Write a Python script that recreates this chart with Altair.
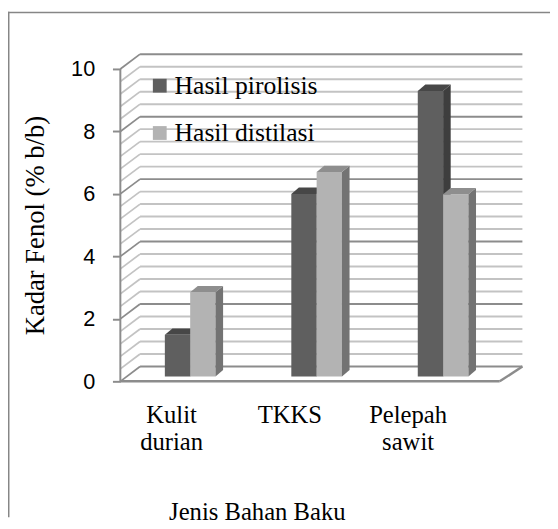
import altair as alt
import pandas as pd

# ---------------- data ----------------
categories = ["Kulit durian", "TKKS", "Pelepah sawit"]
category_labels = ["Kulit\ndurian", "TKKS", "Pelepah\nsawit"]
series = ["Hasil pirolisis", "Hasil distilasi"]
pirolisis = [1.33, 5.84, 9.14]
distilasi = [2.69, 6.54, 5.83]
y_ticks = [0, 2, 4, 6, 8, 10]
minor_step = 0.4
x_title = "Jenis Bahan Baku"
y_title = "Kadar Fenol (% b/b)"

# ---------------- layout / style ----------------
W, H = 410, 339
PXU = 31.7                      # px per value unit
Y_MAX = H / PXU
BAND = 128.33
WALL_DX, WALL_DY = 20, 15 / PXU
BAR_DX0, BAR_BASE = 6.7, 5 / PXU
BAR_W = 25.7
BAR_DX, BAR_DY = 7.7, 6.5 / PXU
FLOOR_RIGHT_DX = 23
LABEL_X0, LABEL_STEP = 52, 120

FRONT = ["#5f5f5f", "#b3b3b3"]
SIDE = ["#3e3e3e", "#737373"]
TOP = ["#474747", "#8e8e8e"]
GRID_MAJOR = "#8c8c8c"
GRID_MINOR = "#c3c3c3"
SERIF = "Liberation Serif"
SANS = "Liberation Sans"

xs = alt.Scale(domain=[0, W], nice=False, zero=False)
ys = alt.Scale(domain=[0, Y_MAX], nice=False, zero=False)
yaxis = alt.Axis(values=y_ticks, grid=False, domain=False, tickSize=8, tickWidth=2,
                 tickColor="#8c8c8c", labelFont=SANS, labelFontSize=22,
                 labelColor="black", labelPadding=18, title=None)


def X(f):
    return alt.X(f, type="quantitative", scale=xs, axis=None)


def Y(f):
    return alt.Y(f, type="quantitative", scale=ys, axis=yaxis)


# ---------------- frames ----------------
n_grid = int(round(max(y_ticks) / minor_step)) + 1
grid_vals = [round(k * minor_step, 2) for k in range(n_grid)]
grid = pd.DataFrame({"v": grid_vals})
grid["major"] = [abs(v / 2 - round(v / 2)) < 1e-6 for v in grid_vals]
grid["xa"] = 0.0
grid["xb"] = float(WALL_DX)
grid["xc"] = float(3 * BAND + FLOOR_RIGHT_DX)
grid["yb"] = grid["v"] + WALL_DY

bars, sides, tops = [], [], []
for i, cat in enumerate(categories):
    for j, vals in enumerate([pirolisis, distilasi]):
        v = vals[i]
        c = BAR_DX0 + (i + 0.5) * BAND
        x1 = c - BAR_W + j * BAR_W
        x2 = x1 + BAR_W
        bid = f"{i}-{j}"
        s = series[j]
        bars.append(dict(id=bid, series=s, cat=cat, value=v, x1=x1, x2=x2,
                         y1=BAR_BASE, y2=BAR_BASE + v))
        sides.append(dict(id=bid, series=s, x=x2, lo=BAR_BASE, hi=BAR_BASE + v))
        sides.append(dict(id=bid, series=s, x=x2 + BAR_DX, lo=BAR_BASE + BAR_DY,
                          hi=BAR_BASE + v + BAR_DY))
        tops.append(dict(id=bid, series=s, y=BAR_BASE + v, l=x1, r=x2))
        tops.append(dict(id=bid, series=s, y=BAR_BASE + v + BAR_DY, l=x1 + BAR_DX,
                         r=x2 + BAR_DX))
bars = pd.DataFrame(bars)
sides = pd.DataFrame(sides)
tops = pd.DataFrame(tops)

floor = pd.DataFrame({"xa": [0.0, 3 * BAND], "xb": [3 * BAND, 3 * BAND + FLOOR_RIGHT_DX],
                      "ya": [0.0, 0.0], "yb": [0.0, WALL_DY]})
axis_line = pd.DataFrame({"x": [0.0], "ya": [min(y_ticks)], "yb": [max(y_ticks)]})

labels = pd.DataFrame({"lab": category_labels,
                       "lx": [LABEL_X0 + LABEL_STEP * i for i in range(len(categories))]})

layers = []

# back wall gridlines and side wall lines
for is_major, col in [(False, GRID_MINOR), (True, GRID_MAJOR)]:
    g = grid[grid["major"] == is_major]
    layers.append(alt.Chart(g).mark_rule(color=col, strokeWidth=2).encode(
        x=X("xb"), x2="xc", y=Y("yb")))
    layers.append(alt.Chart(g).mark_rule(color=col, strokeWidth=1.8).encode(
        x=X("xa"), x2="xb", y=Y("v"), y2="yb"))

# floor edges and axis line
layers.append(alt.Chart(floor).mark_rule(color="#8c8c8c", strokeWidth=2.5).encode(
    x=X("xa"), x2="xb", y=Y("ya"), y2="yb"))
layers.append(alt.Chart(axis_line).mark_rule(color="#8c8c8c", strokeWidth=2).encode(
    x=X("x"), y=Y("ya"), y2="yb"))

color_scale = alt.Scale(domain=series, range=FRONT)
legend = alt.Legend(orient="none", legendX=27, legendY=26, title=None,
                    symbolType="square", symbolSize=196, symbolStrokeWidth=0,
                    labelFont=SERIF, labelFontSize=26, labelColor="black",
                    labelOffset=2, rowPadding=22, padding=0)


def side_layer(j):
    d = sides[sides["series"] == series[j]]
    return alt.Chart(d).mark_area(orient="vertical", color=SIDE[j]).encode(
        x=X("x"), y=Y("lo"), y2="hi", detail="id:N")


def top_layer(j):
    d = tops[tops["series"] == series[j]]
    return alt.Chart(d).mark_area(orient="horizontal", color=TOP[j]).encode(
        y=Y("y"), x=X("l"), x2="r", detail="id:N")


layers.append(side_layer(0))
layers.append(top_layer(0))
layers.append(alt.Chart(bars).mark_rect().encode(
    x=X("x1"), x2="x2", y=Y("y1"), y2="y2",
    color=alt.Color("series:N", scale=color_scale, legend=legend)))
layers.append(side_layer(1))
layers.append(top_layer(1))

# category labels
layers.append(alt.Chart(labels).mark_text(
    font=SERIF, fontSize=25, color="black", align="center", baseline="alphabetic",
    lineBreak="\n", lineHeight=28).encode(
    x=X("lx"), y=alt.value(381), text="lab:N"))

# titles
layers.append(alt.Chart(pd.DataFrame({"t": [x_title]})).mark_text(
    font=SERIF, fontSize=25, color="black", align="center", baseline="alphabetic").encode(
    x=alt.value(139), y=alt.value(480), text="t:N"))
layers.append(alt.Chart(pd.DataFrame({"t": [y_title]})).mark_text(
    font=SERIF, fontSize=27, color="black", align="center", baseline="middle",
    angle=270).encode(x=alt.value(-85.5), y=alt.value(181), text="t:N"))

# outer chart frame (left and top edges)
frame = pd.DataFrame({"t": ["frame"]})
layers.append(alt.Chart(frame).mark_rule(color="#868686", strokeWidth=1.5).encode(
    x=alt.value(-113.25), y=alt.value(-36), y2=alt.value(477)))
layers.append(alt.Chart(frame).mark_rule(color="#868686", strokeWidth=1.5).encode(
    x=alt.value(-114), x2=alt.value(436), y=alt.value(-35.25)))

chart = alt.layer(*layers).properties(
    width=W, height=H,
    padding={"left": 114, "top": 36, "right": 26, "bottom": 146},
    autosize=alt.AutoSizeParams(type="none"),
    background="white",
).configure_view(stroke=None)

chart.save("out.html", embed_options={"renderer": "svg", "actions": False})
